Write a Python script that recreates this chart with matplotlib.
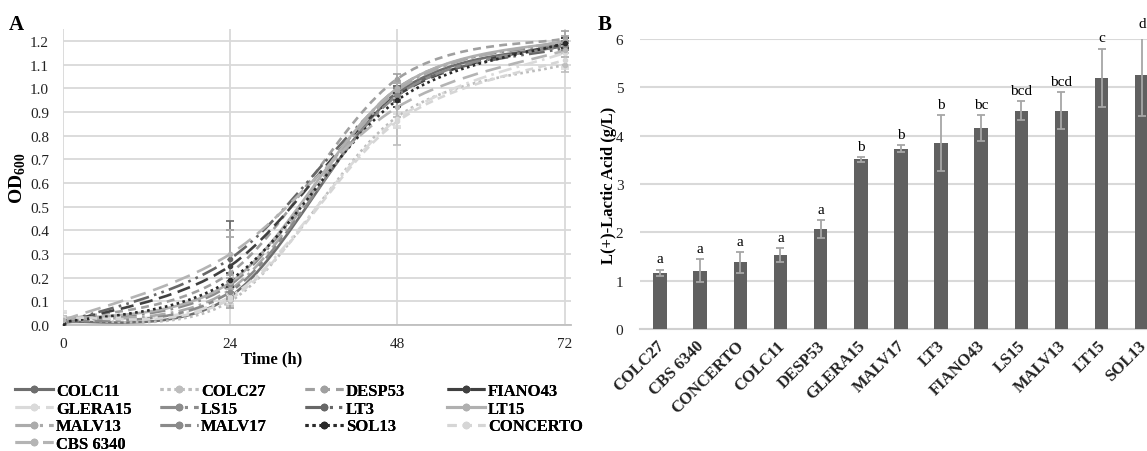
import matplotlib
matplotlib.use("Agg")
import matplotlib.pyplot as plt
import matplotlib.transforms as mtransforms
from matplotlib.path import Path
from matplotlib.patches import PathPatch
from matplotlib.lines import Line2D
import numpy as np

plt.rcParams['font.family'] = ['Liberation Serif', 'DejaVu Serif']
plt.rcParams['mathtext.fontset'] = 'custom'
plt.rcParams['mathtext.rm'] = 'Liberation Serif'
plt.rcParams['mathtext.bf'] = 'Liberation Serif:bold'

# ---------------- Panel A data ----------------
time_h = [0, 24, 48, 72]
strains = ["COLC11", "COLC27", "DESP53", "FIANO43", "GLERA15", "LS15", "LT3",
           "LT15", "MALV13", "MALV17", "SOL13", "CONCERTO", "CBS 6340"]
od_COLC11 = [0.01, 0.12, 0.98, 1.18]
od_COLC27 = [0.02, 0.10, 0.88, 1.10]
od_DESP53 = [0.02, 0.22, 1.04, 1.21]
od_FIANO43 = [0.01, 0.25, 0.97, 1.19]
od_GLERA15 = [0.03, 0.12, 0.87, 1.15]
od_LS15 = [0.02, 0.17, 1.00, 1.19]
od_LT3 = [0.01, 0.28, 0.98, 1.17]
od_LT15 = [0.02, 0.18, 1.00, 1.20]
od_MALV13 = [0.02, 0.15, 0.99, 1.20]
od_MALV17 = [0.01, 0.14, 0.97, 1.18]
od_SOL13 = [0.01, 0.19, 0.95, 1.19]
od_CONCERTO = [0.03, 0.11, 0.86, 1.12]
od_CBS6340 = [0.02, 0.30, 0.92, 1.16]

sd_COLC11 = [0.01, 0.02, 0.03, 0.02]
sd_COLC27 = [0.01, 0.02, 0.12, 0.03]
sd_DESP53 = [0.01, 0.15, 0.02, 0.03]
sd_FIANO43 = [0.01, 0.15, 0.03, 0.02]
sd_GLERA15 = [0.03, 0.02, 0.03, 0.07]
sd_LS15 = [0.01, 0.03, 0.03, 0.02]
sd_LT3 = [0.01, 0.16, 0.03, 0.02]
sd_LT15 = [0.01, 0.03, 0.03, 0.02]
sd_MALV13 = [0.01, 0.03, 0.03, 0.02]
sd_MALV17 = [0.01, 0.03, 0.03, 0.02]
sd_SOL13 = [0.01, 0.03, 0.03, 0.02]
sd_CONCERTO = [0.02, 0.02, 0.03, 0.03]
sd_CBS6340 = [0.02, 0.10, 0.04, 0.03]

od_values = [od_COLC11, od_COLC27, od_DESP53, od_FIANO43, od_GLERA15, od_LS15, od_LT3,
             od_LT15, od_MALV13, od_MALV17, od_SOL13, od_CONCERTO, od_CBS6340]
od_sd = [sd_COLC11, sd_COLC27, sd_DESP53, sd_FIANO43, sd_GLERA15, sd_LS15, sd_LT3,
         sd_LT15, sd_MALV13, sd_MALV17, sd_SOL13, sd_CONCERTO, sd_CBS6340]

# styles per strain (colour, dash pattern)
line_colors = ["#6e6e6e", "#bdbdbd", "#a0a0a0", "#404040", "#dadada", "#8c8c8c", "#676767",
               "#b0b0b0", "#ababab", "#8a8a8a", "#2a2a2a", "#d6d6d6", "#b4b4b4"]
line_styles = ["-", (0, (1, 1.3)), (0, (3, 2)), (0, (5, 2.5)), (0, (5, 2, 1, 2)),
               (0, (6, 2, 1, 2)), (0, (6, 2, 1, 2, 1, 2)), "-", (0, (6, 2, 1, 2)),
               (0, (6, 2, 2, 2)), (0, (1, 1.3)), (0, (3, 2)), (0, (6, 3))]

# ---------------- Panel B data ----------------
bar_strains = ["COLC27", "CBS 6340", "CONCERTO", "COLC11", "DESP53", "GLERA15", "MALV17",
               "LT3", "FIANO43", "LS15", "MALV13", "LT15", "SOL13"]
lactic = [1.16, 1.21, 1.38, 1.53, 2.07, 3.51, 3.73, 3.84, 4.16, 4.52, 4.52, 5.20, 5.26]
lactic_sd = [0.07, 0.24, 0.22, 0.15, 0.19, 0.05, 0.07, 0.58, 0.26, 0.19, 0.39, 0.60, 0.85]
letters = ["a", "a", "a", "a", "a", "b", "b", "b", "bc", "bcd", "bcd", "c", "d"]

W, H = 1147, 452
fig = plt.figure(figsize=(W / 100, H / 100), dpi=100)


def fx(px):
    return px / W


def fy(py):
    return 1 - py / H


def smooth_path(x, y):
    x = np.asarray(x, float)
    y = np.asarray(y, float)
    n = len(x)
    verts = [(x[0], y[0])]
    codes = [Path.MOVETO]
    for i in range(n - 1):
        p0 = i - 1 if i > 0 else i
        p3 = i + 2 if i + 2 < n else i + 1
        c1 = (x[i] + (x[i + 1] - x[p0]) / 6, y[i] + (y[i + 1] - y[p0]) / 6)
        c2 = (x[i + 1] - (x[p3] - x[i]) / 6, y[i + 1] - (y[p3] - y[i]) / 6)
        verts += [c1, c2, (x[i + 1], y[i + 1])]
        codes += [Path.CURVE4] * 3
    return Path(verts, codes)


# ---------------- Panel A ----------------
axA = fig.add_axes([fx(63), fy(326), fx(571) - fx(63), fy(30) - fy(326)])
axA.set_xlim(0, 72.9)
axA.set_ylim(0, 1.25)
axA.set_xticks([0, 24, 48, 72])
axA.set_yticks(np.round(np.arange(0, 1.21, 0.1), 1))
axA.set_yticklabels([f"{v:.1f}" for v in np.arange(0, 1.21, 0.1)])
axA.grid(True, color="#d9d9d9", linewidth=1.3)
axA.set_axisbelow(True)
for s in ["top", "right", "left"]:
    axA.spines[s].set_visible(False)
axA.spines["bottom"].set_color("#bfbfbf")
axA.spines["bottom"].set_linewidth(1.3)
axA.tick_params(length=0, labelsize=11, colors="#222222", pad=10)
axA.tick_params(axis="x", pad=9)

handles = {}
for name, vals, sds, col, ls in zip(strains, od_values, od_sd, line_colors, line_styles):
    patch = PathPatch(smooth_path(time_h, vals), facecolor="none", edgecolor=col,
                      linewidth=1.9, linestyle=ls, zorder=3)
    axA.add_patch(patch)
    axA.errorbar(time_h, vals, yerr=sds, fmt="o", color=col, ecolor=col, markersize=3,
                 elinewidth=1.2, capsize=3, capthick=1.2, zorder=4)
    handles[name] = Line2D([], [], color=col, linestyle=ls, linewidth=2.2, marker="o",
                           markersize=4.5)

axA.set_xlabel("Time (h)", fontsize=12, fontweight="bold")
axA.xaxis.set_label_coords(0.41, -0.085)
axA.set_ylabel(r"$\mathbf{OD}_{\mathbf{600}}$", fontsize=14)
axA.yaxis.set_label_coords(-0.068, 0.5)

fig.text(fx(9), fy(25), "A", fontsize=15, fontweight="bold", va="center", ha="left")

# Legend: four columns, filled row-wise
legend_cols = [["COLC11", "GLERA15", "MALV13", "CBS 6340"],
               ["COLC27", "LS15", "MALV17"],
               ["DESP53", "LT3", "SOL13"],
               ["FIANO43", "LT15", "CONCERTO"]]
col_x = [15, 160, 305, 447]
for names, xpx in zip(legend_cols, col_x):
    leg = fig.legend([handles[n] for n in names], names, loc="upper left",
                     bbox_to_anchor=(fx(xpx), fy(384)), frameon=False, ncol=1,
                     borderpad=0, borderaxespad=0, handlelength=2.25, handletextpad=0.2,
                     labelspacing=0.1, prop={"family": "Liberation Serif", "weight": "bold",
                                             "size": 12})
    fig.add_artist(leg)

# ---------------- Panel B ----------------
axB = fig.add_axes([fx(640), fy(330), 1 - fx(640), fy(40) - fy(330)])
xpos = np.arange(len(bar_strains))
axB.bar(xpos, lactic, width=0.34, color="#606060", zorder=3)
axB.errorbar(xpos, lactic, yerr=lactic_sd, fmt="none", ecolor="#a6a6a6", elinewidth=1.3,
             capsize=3, capthick=1.3, zorder=4)
for xi, v, e, lt in zip(xpos, lactic, lactic_sd, letters):
    axB.annotate(lt, (xi, v + e), xytext=(0, 3), textcoords="offset points",
                 ha="center", va="bottom", fontsize=11, annotation_clip=False)
axB.set_xlim(-0.5, 12.13)
axB.set_ylim(0, 6)
axB.set_yticks(range(0, 7))
axB.yaxis.grid(True, color="#d9d9d9", linewidth=1.5)
axB.set_axisbelow(True)
for s in ["top", "right", "left"]:
    axB.spines[s].set_visible(False)
axB.spines["bottom"].set_color("#d0d0d0")
axB.spines["bottom"].set_linewidth(1.5)
axB.tick_params(length=0, labelsize=11, colors="#222222", pad=12)
axB.set_xticks(xpos)
axB.set_xticklabels(bar_strains, rotation=45, ha="right", rotation_mode="anchor",
                    fontsize=12, fontweight="bold")
axB.tick_params(axis="x", pad=6)
shift = mtransforms.ScaledTranslation(-4 / 100, 0, fig.dpi_scale_trans)
for lbl in axB.get_xticklabels():
    lbl.set_transform(lbl.get_transform() + shift)
axB.set_ylabel("L(+)-Lactic Acid (g/L)", fontsize=12, fontweight="bold")
axB.yaxis.set_label_coords(-0.045, 0.5)

fig.text(fx(598), fy(25), "B", fontsize=15, fontweight="bold", va="center", ha="left")

fig.savefig("out.png", dpi=100)
